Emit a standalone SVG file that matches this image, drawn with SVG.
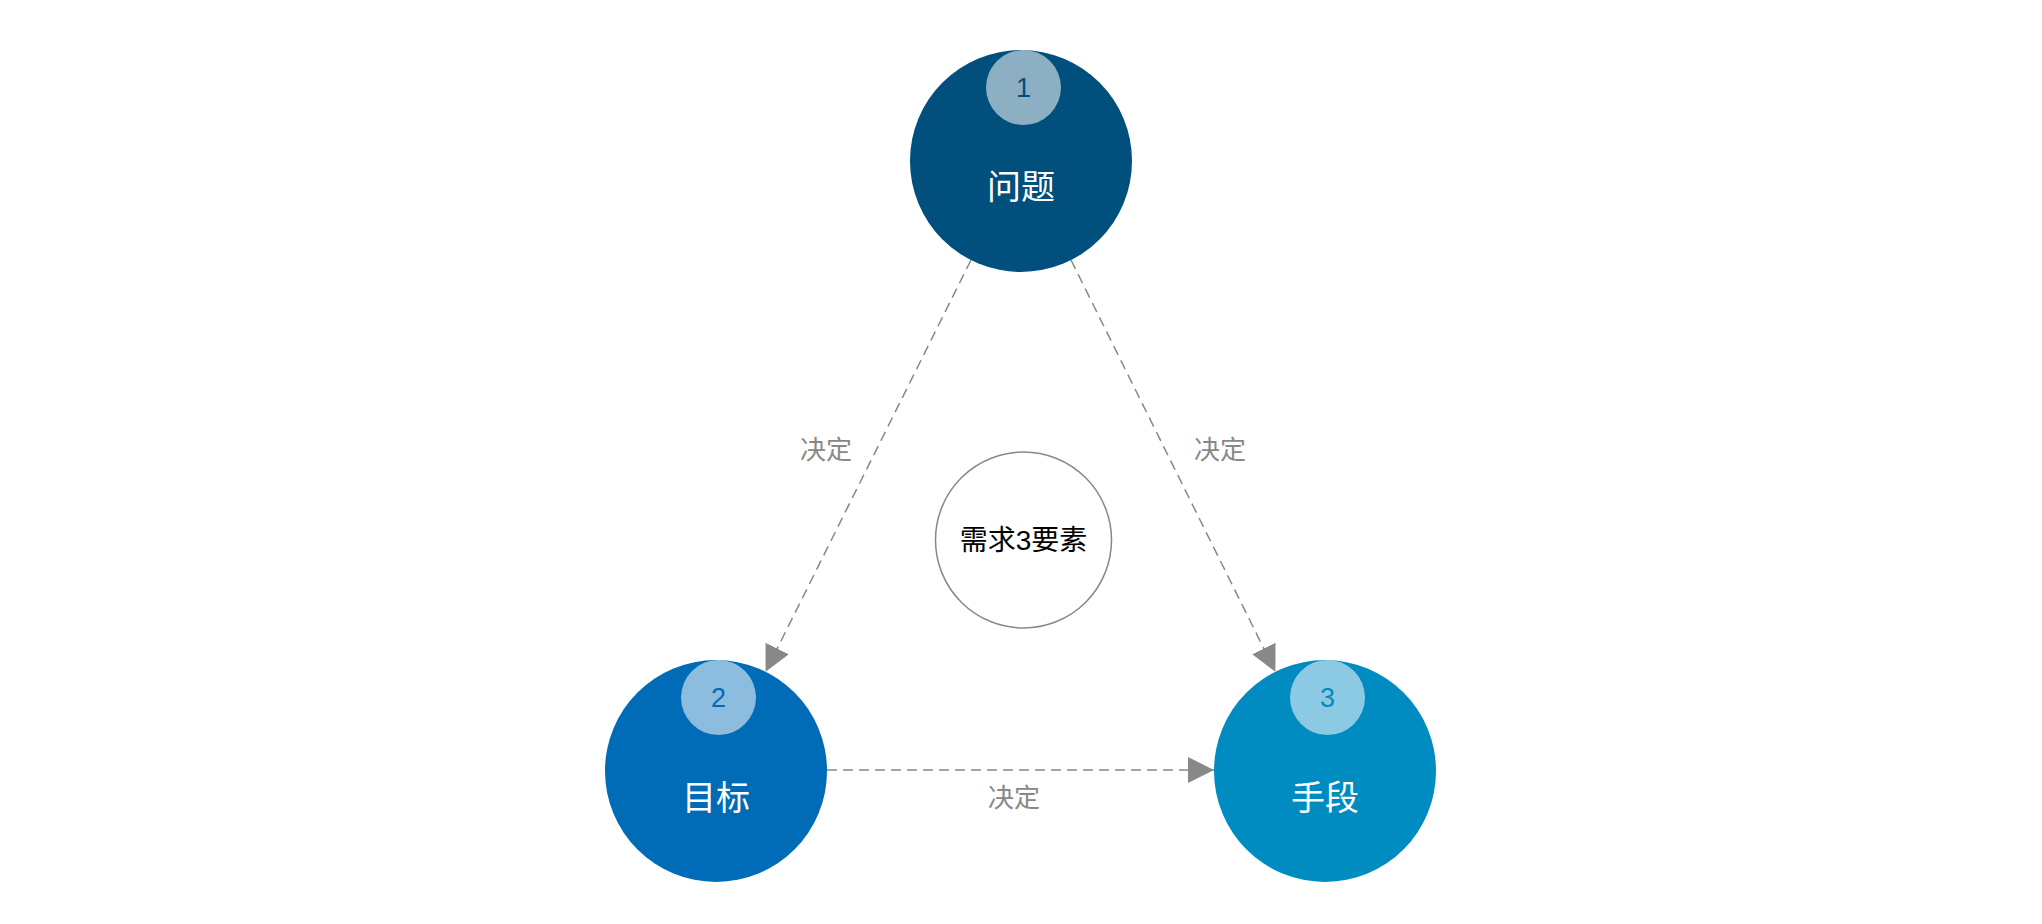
<svg xmlns="http://www.w3.org/2000/svg" width="2042" height="924" viewBox="0 0 2042 924">
<defs>
<marker id="arr" markerUnits="userSpaceOnUse" markerWidth="26" markerHeight="26" viewBox="0 0 24 24" refX="24" refY="12" orient="auto">
<path d="M0,0 L24,12 L0,24 Z" fill="#888888"/>
</marker>
<style>
.conn{stroke:#888888;stroke-width:1.5;stroke-dasharray:10 6;fill:none}
.lbl{font-family:"Liberation Sans","Noto Sans CJK SC",sans-serif;font-size:26px;fill:#888888;text-anchor:middle;dominant-baseline:central}
.main{font-family:"Liberation Sans","Noto Sans CJK SC",sans-serif;font-size:34px;fill:#ffffff;text-anchor:middle;dominant-baseline:central}
.num{font-family:"Liberation Sans","Noto Sans CJK SC",sans-serif;font-size:27px;text-anchor:middle;dominant-baseline:central}
.badge{fill:#ffffff;fill-opacity:0.55}
.center{font-family:"Liberation Sans","Noto Sans CJK SC",sans-serif;font-size:28px;fill:#000000;text-anchor:middle;dominant-baseline:central}
</style>
</defs>
<rect width="2042" height="924" fill="#ffffff"/>
<g id="connectors">
<line class="conn" x1="971" y1="260" x2="765.6" y2="671.8" marker-end="url(#arr)"/>
<line class="conn" x1="1071" y1="260" x2="1275.4" y2="671.8" marker-end="url(#arr)"/>
<line class="conn" x1="827" y1="770" x2="1214" y2="770" marker-end="url(#arr)"/>
<text class="lbl" x="826" y="450">决定</text>
<text class="lbl" x="1220" y="450">决定</text>
<text class="lbl" x="1014" y="798">决定</text>
</g>
<g id="node-center">
<circle cx="1023.5" cy="540" r="88" fill="#ffffff" stroke="#888888" stroke-width="1.5"/>
<text class="center" x="1023.5" y="540">需求3要素</text>
</g>
<g id="node-1">
<circle cx="1021" cy="161" r="111" fill="#004F7C"/>
<circle class="badge" cx="1023.5" cy="87.5" r="37.5"/>
<text class="num" x="1023.5" y="88" fill="#004F7C">1</text>
<text class="main" x="1021" y="187">问题</text>
</g>
<g id="node-2">
<circle cx="716" cy="771" r="111" fill="#006BB7"/>
<circle class="badge" cx="718.5" cy="697.5" r="37.5"/>
<text class="num" x="718.5" y="698" fill="#006BB7">2</text>
<text class="main" x="716" y="798">目标</text>
</g>
<g id="node-3">
<circle cx="1325" cy="771" r="111" fill="#008BC1"/>
<circle class="badge" cx="1327.5" cy="697.5" r="37.5"/>
<text class="num" x="1327.5" y="698" fill="#008BC1">3</text>
<text class="main" x="1325" y="798">手段</text>
</g>
</svg>
